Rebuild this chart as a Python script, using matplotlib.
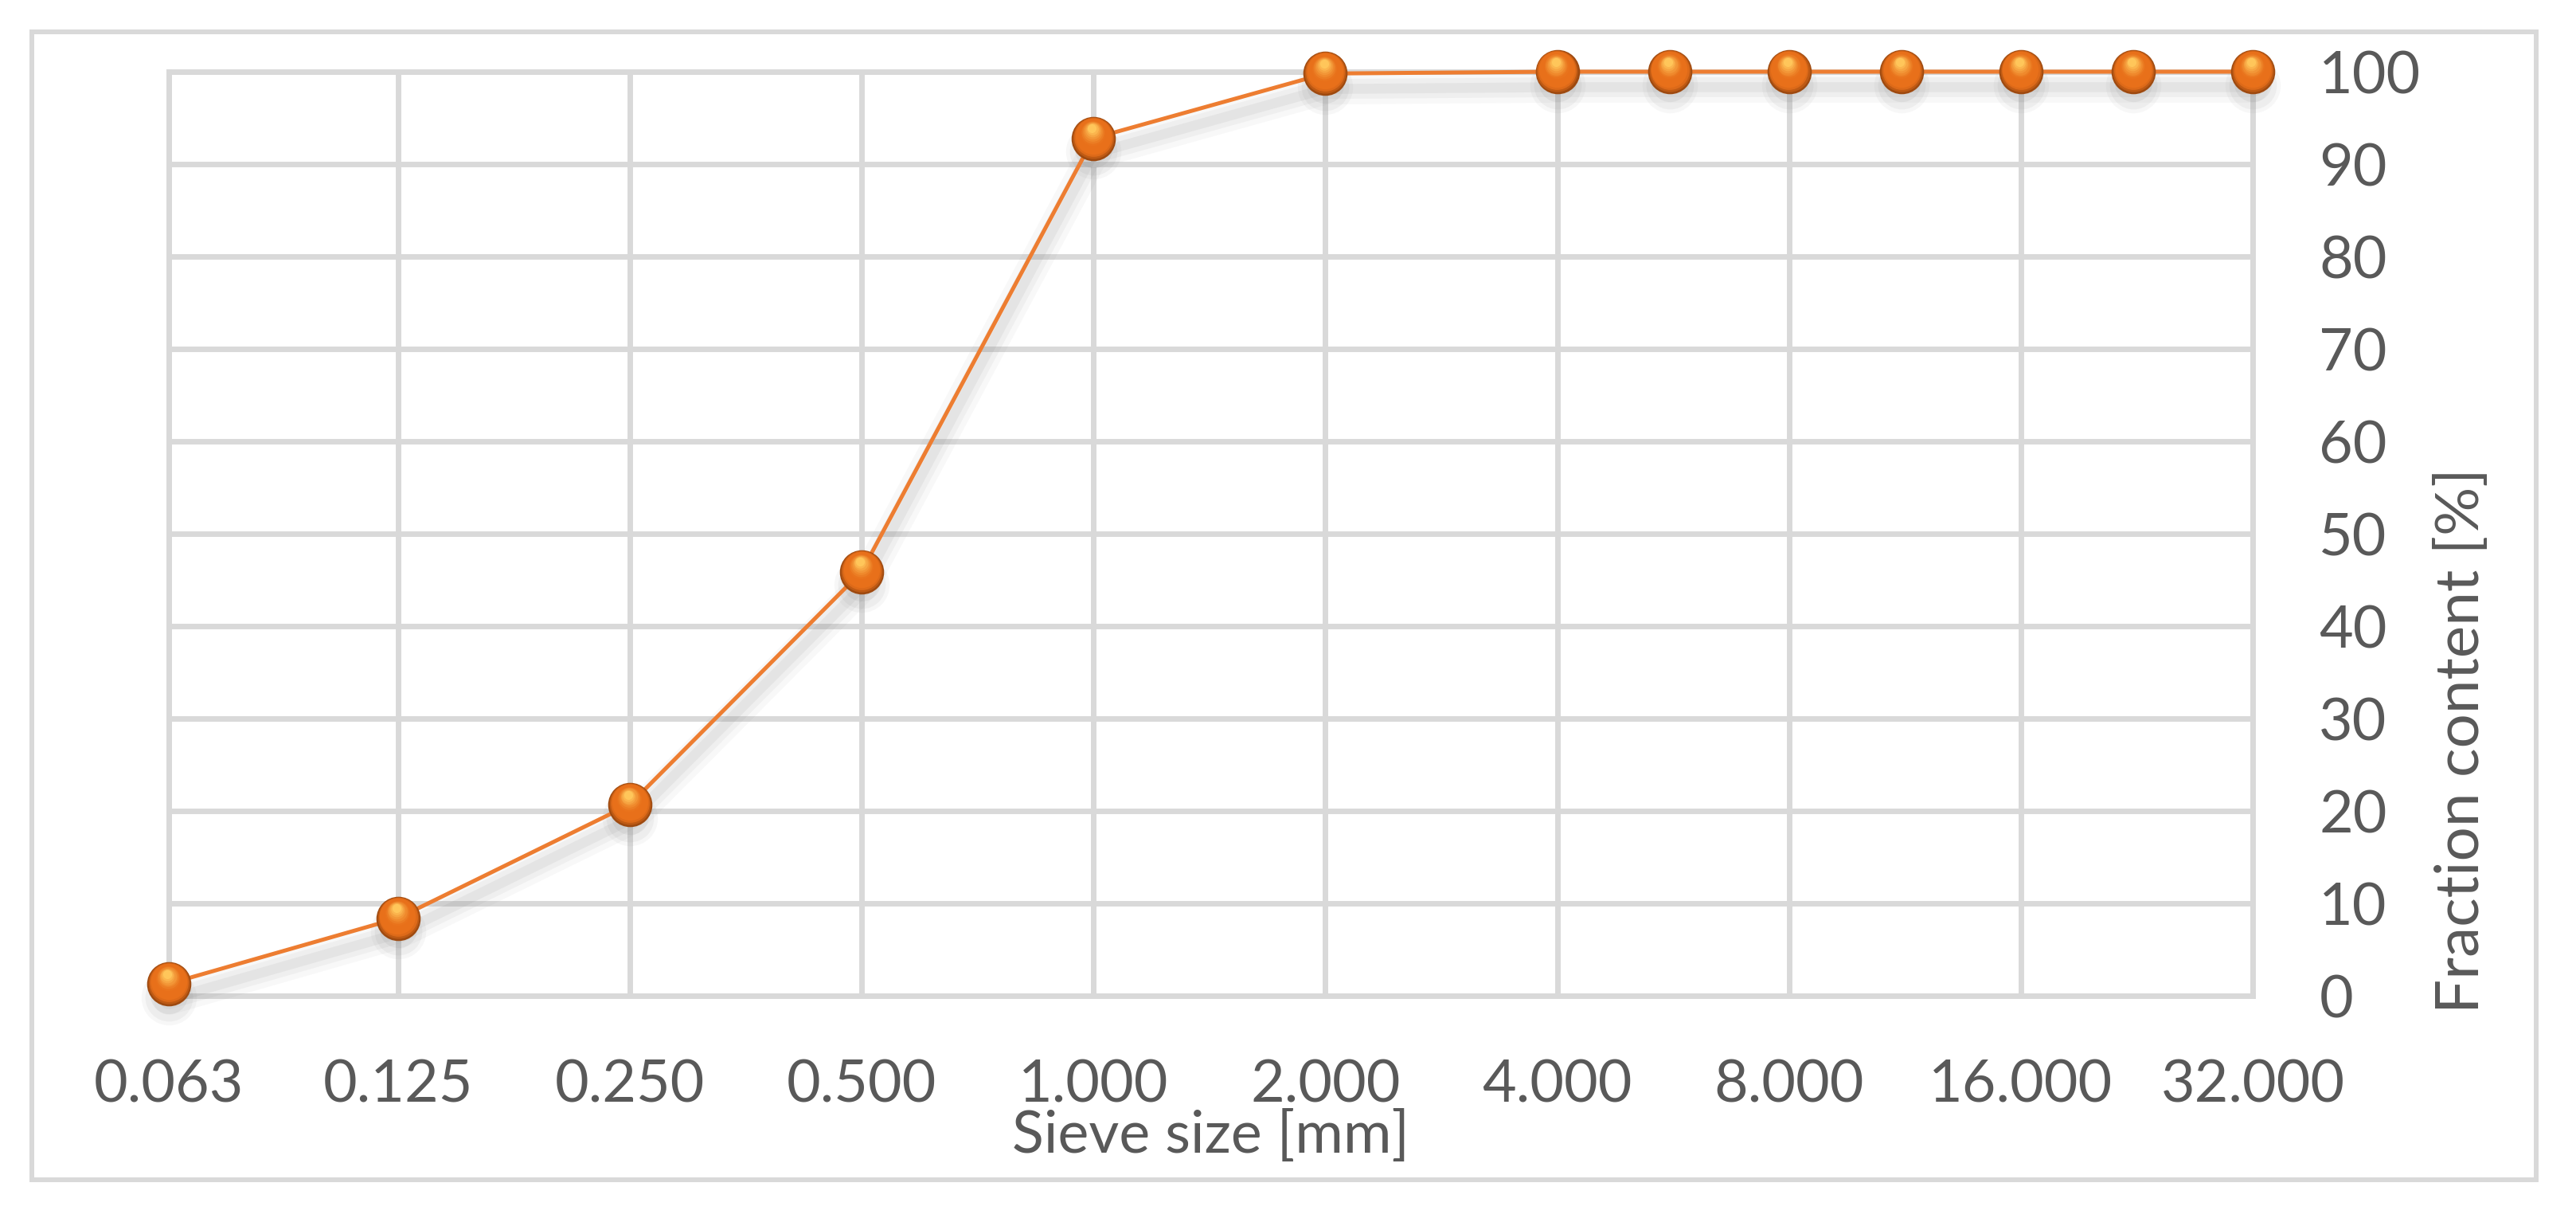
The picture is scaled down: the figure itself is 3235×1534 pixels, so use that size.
import numpy as np
import matplotlib
matplotlib.use("Agg")
import matplotlib.pyplot as plt
from matplotlib.ticker import FixedLocator, FormatStrFormatter
from matplotlib.transforms import offset_copy
from matplotlib.patches import Rectangle
from matplotlib.colors import to_rgb

# ---- data ----
sieve_mm = [0.063, 0.125, 0.25, 0.5, 1.0, 2.0, 4.0, 5.6, 8.0, 11.2, 16.0, 22.4, 32.0]
passing = [1.3, 8.4, 20.7, 45.9, 92.8, 99.8, 100, 100, 100, 100, 100, 100, 100]
x_ticks = [0.063, 0.125, 0.25, 0.5, 1.0, 2.0, 4.0, 8.0, 16.0, 32.0]
y_ticks = list(range(0, 101, 10))

TXT = "#595959"
GRID = "#D9D9D9"
ORANGE = "#ED7D31"

W, H, DPI = 3235, 1534, 100
plt.rcParams["font.family"] = ["Lato", "DejaVu Sans"]

fig = plt.figure(figsize=(W / DPI, H / DPI), dpi=DPI, facecolor="white")

# plot area in pixels: x 212..2829, y 90..1250 (from top)
L, R, T, B = 212, 2829, 90, 1250
ax = fig.add_axes([L / W, 1 - B / H, (R - L) / W, (B - T) / H])

# outer chart frame
fig.patches.append(Rectangle((40 / W, 1 - 1481 / H), (3185 - 40) / W, (1481 - 40) / H,
                             transform=fig.transFigure, fill=False,
                             edgecolor=GRID, linewidth=4.3, zorder=0))

ax.set_xscale("log", base=2)
ax.set_xlim(sieve_mm[0], 32)
ax.set_ylim(0, 100)
ax.xaxis.set_major_locator(FixedLocator(x_ticks))
ax.xaxis.set_major_formatter(FormatStrFormatter("%.3f"))
ax.xaxis.set_minor_locator(FixedLocator([]))
ax.yaxis.set_major_locator(FixedLocator(y_ticks))
ax.yaxis.tick_right()

ax.grid(True, color=GRID, linewidth=5, zorder=0)
for sp in ax.spines.values():
    sp.set_color(GRID)
    sp.set_linewidth(5)
    sp.set_zorder(0.5)
ax.set_axisbelow(True)

ax.tick_params(axis="x", length=0, pad=57, labelsize=53, labelcolor=TXT)
ax.tick_params(axis="y", length=0, pad=60, labelsize=53, labelcolor=TXT)

# soft shadow under the line and markers
for dy, lw, a in [(-14, 28, 0.05), (-14, 18, 0.07), (-14, 9, 0.09)]:
    tr = offset_copy(ax.transData, fig=fig, x=0, y=dy, units="points")
    ax.plot(sieve_mm, passing, color="gray", lw=lw, alpha=a,
            solid_capstyle="round", transform=tr, clip_on=False, zorder=2)
for dy, ms, a in [(-12, 50, 0.06), (-12, 43, 0.08), (-10, 34, 0.10)]:
    tr = offset_copy(ax.transData, fig=fig, x=0, y=dy, units="points")
    ax.plot(sieve_mm, passing, "o", ms=ms, color="gray", alpha=a, mec="none",
            transform=tr, clip_on=False, zorder=2)

ax.plot(sieve_mm, passing, color=ORANGE, lw=3.6, zorder=3, clip_on=False)

# sphere markers: stacked discs for a radial gradient
D = 40.0
edge = np.array(to_rgb("#9E4A10"))
mid = np.array(to_rgb("#E8701A"))
hi = np.array(to_rgb("#FFC65A"))
n = 14
for i in range(n):
    f = i / (n - 1)
    ms = D * (1 - 0.8 * f)
    if f < 0.5:
        c = edge + (mid - edge) * min(1, f / 0.18)
    else:
        c = mid + (hi - mid) * ((f - 0.5) / 0.5) ** 1.3
    dy = (D - ms) / 2 * 0.55
    dx = -(D - ms) / 2 * 0.08
    tr = offset_copy(ax.transData, fig=fig, x=dx, y=dy, units="points")
    ax.plot(sieve_mm, passing, "o", ms=ms, color=tuple(c), mec="none",
            transform=tr, clip_on=False, zorder=4 + i * 0.01)

ax.set_xlabel("Sieve size [mm]", fontsize=53, color=TXT)
ax.xaxis.set_label_coords(0.5, (H - 1447 - (H - B)) / (B - T))
ax.xaxis.label.set_va("baseline")

fig.text(3091 / W, 1 - 1272 / H, "Fraction content [%]", rotation=90,
         ha="center", va="bottom", fontsize=55, color=TXT)

fig.savefig("out.png", dpi=DPI, facecolor="white")
